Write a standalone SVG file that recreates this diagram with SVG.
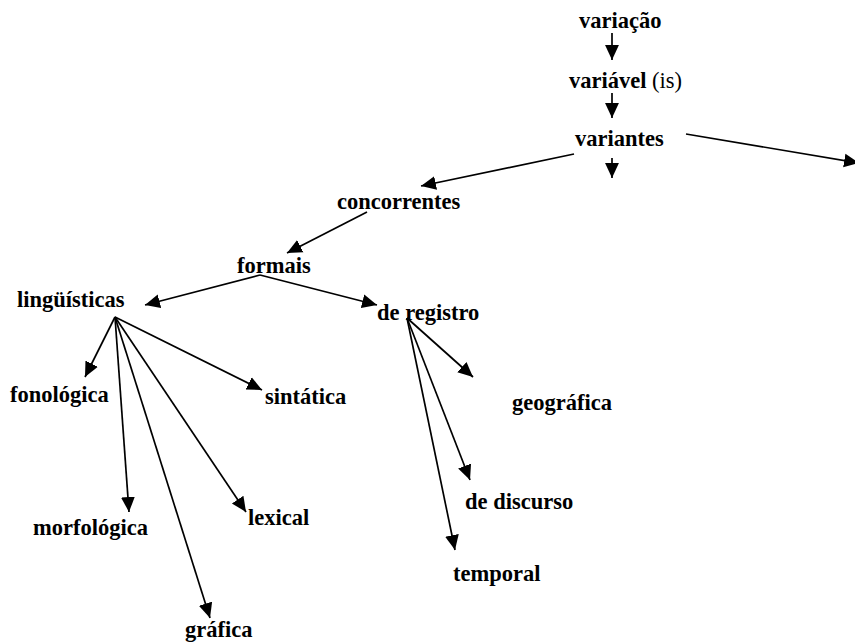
<svg xmlns="http://www.w3.org/2000/svg" width="855" height="643" viewBox="0 0 855 643">
<style>
text{font-family:"Liberation Serif","Times New Roman",serif;font-size:22.5px;font-weight:bold;fill:#000}
.reg{font-weight:normal}
.c line{stroke:#000;stroke-width:1.7;marker-end:url(#ah)}
</style>
<defs>
<marker id="ah" markerUnits="userSpaceOnUse" markerWidth="16" markerHeight="16" refX="14" refY="6.5" orient="auto" viewBox="0 0 15 13">
<path d="M0,0 L14,6.5 L0,13 z" fill="#000"/>
</marker>
</defs>
<rect width="855" height="643" fill="#fff"/>
<g class="c" id="connectors">
<line x1="612" y1="33" x2="612" y2="60"/>
<line x1="612" y1="93" x2="612" y2="118"/>
<line x1="612" y1="158" x2="612" y2="178"/>
<line x1="686" y1="134" x2="859" y2="163"/>
<line x1="574" y1="154" x2="421" y2="186"/>
<line x1="367" y1="212" x2="287" y2="253"/>
<line x1="260" y1="275" x2="145" y2="305"/>
<line x1="260" y1="275" x2="377" y2="305"/>
<line x1="115" y1="317" x2="85" y2="377"/>
<line x1="115" y1="317" x2="262" y2="390"/>
<line x1="115" y1="317" x2="129" y2="512"/>
<line x1="115" y1="317" x2="246" y2="512"/>
<line x1="115" y1="317" x2="210" y2="618"/>
<line x1="407" y1="318" x2="473" y2="377"/>
<line x1="407" y1="318" x2="470" y2="480"/>
<line x1="407" y1="318" x2="455" y2="550"/>
</g>
<g id="variacao"><text x="579" y="28">variação</text></g>
<g id="variavel"><text x="569" y="88">variável <tspan class="reg">(is)</tspan></text></g>
<g id="variantes"><text x="575" y="146">variantes</text></g>
<g id="concorrentes"><text x="337" y="209">concorrentes</text></g>
<g id="formais"><text x="237" y="273">formais</text></g>
<g id="linguisticas"><text x="17" y="307">lingüísticas</text></g>
<g id="deregistro"><text x="377" y="320">de registro</text></g>
<g id="fonologica"><text x="10" y="402">fonológica</text></g>
<g id="sintatica"><text x="265" y="404">sintática</text></g>
<g id="geografica"><text x="512" y="410">geográfica</text></g>
<g id="dediscurso"><text x="465" y="509">de discurso</text></g>
<g id="lexical"><text x="248" y="525">lexical</text></g>
<g id="morfologica"><text x="33" y="535">morfológica</text></g>
<g id="temporal"><text x="453" y="581">temporal</text></g>
<g id="grafica"><text x="185" y="637">gráfica</text></g>
</svg>
